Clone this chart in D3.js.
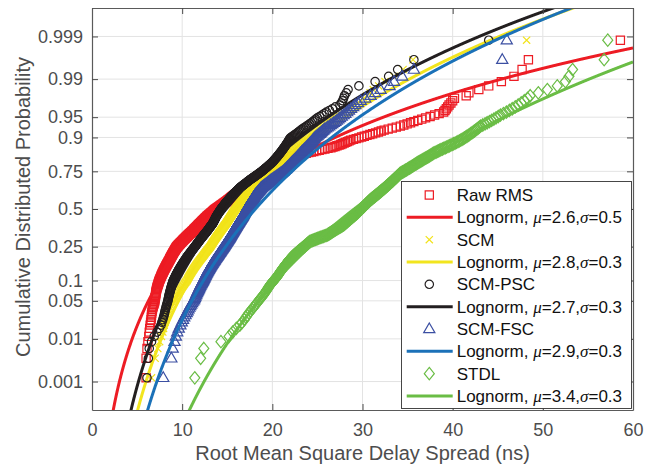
<!DOCTYPE html>
<html><head><meta charset="utf-8">
<script src="https://cdn.jsdelivr.net/npm/d3@7"></script>
<style>body{margin:0;background:#fff}svg{display:block}text{font-family:"Liberation Sans",Arial,Helvetica,sans-serif}</style>
</head><body><svg id="c" width="652" height="466"></svg>
<script>
const xTicks=[0,10,20,30,40,50,60];
const probTicks=[0.001,0.01,0.05,0.1,0.25,0.5,0.75,0.9,0.95,0.99,0.999];
const probLabels=["0.001","0.01","0.05","0.1","0.25","0.5","0.75","0.9","0.95","0.99","0.999"];
const seriesNames=["Raw RMS","SCM","SCM-PSC","SCM-FSC","STDL"];
const fitMuLabel=["2.6","2.8","2.7","2.9","3.4"];
const fitSigmaLabel=["0.5","0.3","0.3","0.3","0.3"];
const fitMu=[2.655,2.80,2.70,2.897,3.37];
const fitSigma=[0.499,0.327,0.343,0.299,0.275];

const rawRMS=[6.0,6.0,6.1,6.2,6.3,6.35,6.4,6.45,6.5,6.55,6.58,6.6,6.63,6.67,6.7,6.75,6.8,6.85,6.9,6.95,
6.97,6.99,7.0,7.03,7.05,7.07,7.09,7.1,7.13,7.15,7.18,7.2,7.23,7.27,7.3,7.33,7.36,7.39,7.42,7.45,
7.48,7.52,7.55,7.59,7.62,7.66,7.69,7.72,7.76,7.8,7.83,7.87,7.9,7.94,7.97,8.01,8.04,8.08,8.11,8.15,
8.18,8.22,8.25,8.29,8.32,8.36,8.39,8.43,8.46,8.5,8.53,8.56,8.59,8.62,8.65,8.68,8.71,8.74,8.77,8.8,
8.83,8.86,8.89,8.92,8.95,8.98,9.01,9.04,9.07,9.1,9.13,9.16,9.19,9.22,9.25,9.28,9.31,9.34,9.37,9.4,
9.44,9.49,9.53,9.58,9.62,9.67,9.71,9.76,9.8,9.85,9.89,9.94,9.98,10.03,10.07,10.12,10.16,10.21,10.25,10.3,
10.34,10.39,10.43,10.48,10.52,10.57,10.61,10.66,10.7,10.75,10.79,10.84,10.88,10.93,10.97,11.02,11.06,11.11,11.15,11.2,
11.24,11.28,11.32,11.36,11.4,11.44,11.48,11.52,11.56,11.6,11.64,11.68,11.72,11.76,11.8,11.84,11.88,11.92,11.96,12.0,
12.04,12.08,12.12,12.16,12.2,12.24,12.28,12.32,12.36,12.4,12.44,12.48,12.52,12.56,12.6,12.64,12.68,12.72,12.76,12.8,
12.85,12.89,12.94,12.98,13.03,13.07,13.12,13.16,13.21,13.25,13.3,13.34,13.39,13.43,13.48,13.52,13.57,13.61,13.66,13.7,
13.76,13.81,13.87,13.92,13.98,14.03,14.09,14.14,14.2,14.25,14.31,14.36,14.42,14.47,14.53,14.58,14.64,14.69,14.75,14.8,
14.85,14.9,14.95,15.0,15.05,15.1,15.15,15.2,15.25,15.3,15.35,15.4,15.45,15.5,15.55,15.6,15.65,15.7,15.75,15.8,
15.85,15.9,15.95,16.0,16.05,16.1,16.15,16.2,16.25,16.3,16.35,16.4,16.45,16.5,16.55,16.6,16.65,16.7,16.75,16.8,
16.86,16.91,16.97,17.02,17.08,17.13,17.19,17.24,17.3,17.35,17.41,17.46,17.52,17.57,17.63,17.68,17.74,17.79,17.85,17.9,
17.97,18.03,18.1,18.16,18.23,18.29,18.36,18.42,18.49,18.55,18.62,18.68,18.75,18.81,18.88,18.94,19.01,19.07,19.14,19.2,
19.28,19.36,19.44,19.52,19.6,19.68,19.76,19.84,19.92,20.0,20.06,20.12,20.18,20.24,20.3,20.36,20.42,20.48,20.54,20.6,
20.72,20.84,20.96,21.08,21.2,21.36,21.52,21.68,21.84,22.0,22.24,22.48,22.72,22.96,23.2,23.48,23.76,24.04,24.32,24.6,
24.9,25.2,25.5,25.83,26.17,26.5,26.72,26.95,27.17,27.4,27.59,27.77,27.96,28.14,28.33,28.51,28.7,29.0,29.3,29.6,
29.9,30.2,30.5,30.82,31.13,31.45,31.77,32.08,32.4,32.85,33.3,33.75,34.2,34.58,34.95,35.33,35.7,36.13,36.57,37.0,
37.5,38.0,38.5,39.0,39.15,39.3,39.45,39.6,39.8,40.0,40.2,41.5,41.8,42.9,44.0,45.4,46.8,47.7,48.4,58.6];

const scm=[6.6,7.0,7.3,7.5,7.7,7.85,7.93,8.0,8.1,8.2,8.28,8.36,8.44,8.52,8.6,8.7,8.8,8.9,9.0,9.1,
9.17,9.24,9.31,9.38,9.45,9.52,9.59,9.66,9.73,9.8,9.87,9.94,10.01,10.08,10.15,10.22,10.29,10.36,10.43,10.5,
10.55,10.59,10.64,10.68,10.73,10.77,10.82,10.86,10.91,10.95,11.0,11.04,11.09,11.13,11.18,11.22,11.27,11.31,11.36,11.4,
11.45,11.49,11.54,11.58,11.63,11.67,11.72,11.76,11.81,11.85,11.9,11.94,11.99,12.03,12.08,12.12,12.17,12.21,12.26,12.3,
12.34,12.38,12.42,12.46,12.5,12.54,12.58,12.62,12.66,12.7,12.74,12.78,12.82,12.86,12.9,12.94,12.98,13.02,13.06,13.1,
13.13,13.16,13.19,13.22,13.25,13.28,13.31,13.34,13.37,13.4,13.43,13.46,13.49,13.52,13.55,13.58,13.61,13.64,13.67,13.7,
13.73,13.76,13.79,13.82,13.85,13.88,13.91,13.94,13.97,14.0,14.03,14.06,14.09,14.12,14.15,14.18,14.21,14.24,14.27,14.3,
14.33,14.36,14.39,14.42,14.45,14.48,14.51,14.54,14.57,14.6,14.63,14.66,14.69,14.72,14.75,14.78,14.81,14.84,14.87,14.9,
14.93,14.95,14.98,15.0,15.03,15.05,15.08,15.1,15.13,15.15,15.18,15.2,15.23,15.25,15.28,15.3,15.33,15.35,15.38,15.4,
15.43,15.45,15.48,15.5,15.53,15.55,15.58,15.6,15.63,15.65,15.68,15.7,15.73,15.75,15.78,15.8,15.83,15.85,15.88,15.9,
15.93,15.96,15.99,16.02,16.05,16.08,16.11,16.14,16.17,16.2,16.23,16.26,16.29,16.32,16.35,16.38,16.41,16.44,16.47,16.5,
16.53,16.56,16.59,16.62,16.65,16.68,16.71,16.74,16.77,16.8,16.83,16.86,16.89,16.92,16.95,16.98,17.01,17.04,17.07,17.1,
17.14,17.17,17.21,17.24,17.28,17.31,17.35,17.38,17.42,17.45,17.49,17.52,17.56,17.59,17.63,17.66,17.7,17.73,17.77,17.8,
17.85,17.9,17.95,18.0,18.05,18.1,18.15,18.2,18.25,18.3,18.35,18.4,18.45,18.5,18.55,18.6,18.65,18.7,18.75,18.8,
18.87,18.94,19.01,19.08,19.15,19.22,19.29,19.36,19.43,19.5,19.57,19.64,19.71,19.78,19.85,19.92,19.99,20.06,20.13,20.2,
20.25,20.3,20.35,20.4,20.45,20.5,20.55,20.6,20.65,20.7,20.75,20.8,20.85,20.9,20.95,21.0,21.05,21.1,21.15,21.2,
21.25,21.3,21.35,21.4,21.45,21.5,21.55,21.6,21.65,21.7,21.75,21.8,21.85,21.9,21.95,22.0,22.05,22.1,22.15,22.2,
22.28,22.36,22.44,22.52,22.6,22.68,22.76,22.84,22.92,23.0,23.08,23.16,23.24,23.32,23.4,23.48,23.56,23.64,23.72,23.8,
23.92,24.04,24.16,24.28,24.4,24.52,24.64,24.76,24.88,25.0,25.16,25.32,25.48,25.64,25.8,25.96,26.12,26.28,26.44,26.6,
26.92,27.24,27.56,27.88,28.2,28.53,28.87,29.2,29.5,29.8,30.15,30.5,30.85,31.2,31.8,32.5,33.5,34.5,35.6,48.2];

const scmPSC=[6.1,6.25,6.35,6.6,6.9,7.2,7.45,7.65,7.75,7.85,7.93,8.0,8.05,8.1,8.15,8.2,8.25,8.3,8.35,8.4,
8.43,8.46,8.49,8.52,8.55,8.58,8.61,8.64,8.67,8.7,8.73,8.76,8.79,8.82,8.85,8.88,8.91,8.94,8.97,9.0,
9.04,9.08,9.12,9.16,9.2,9.24,9.28,9.32,9.36,9.4,9.44,9.48,9.52,9.56,9.6,9.64,9.68,9.72,9.76,9.8,
9.84,9.88,9.92,9.96,10.0,10.04,10.08,10.12,10.16,10.2,10.24,10.28,10.32,10.36,10.4,10.44,10.48,10.52,10.56,10.6,
10.64,10.68,10.72,10.76,10.8,10.84,10.88,10.92,10.96,11.0,11.04,11.08,11.12,11.16,11.2,11.24,11.28,11.32,11.36,11.4,
11.44,11.47,11.51,11.54,11.58,11.61,11.65,11.68,11.72,11.75,11.79,11.82,11.86,11.89,11.93,11.96,12.0,12.03,12.07,12.1,
12.14,12.17,12.21,12.24,12.28,12.31,12.35,12.38,12.42,12.45,12.49,12.52,12.56,12.59,12.63,12.66,12.7,12.73,12.77,12.8,
12.83,12.86,12.89,12.92,12.95,12.98,13.01,13.04,13.07,13.1,13.13,13.16,13.19,13.22,13.25,13.28,13.31,13.34,13.37,13.4,
13.42,13.44,13.46,13.48,13.5,13.52,13.54,13.56,13.58,13.6,13.62,13.64,13.66,13.68,13.7,13.72,13.74,13.76,13.78,13.8,
13.83,13.85,13.88,13.9,13.93,13.95,13.98,14.0,14.03,14.05,14.08,14.1,14.13,14.15,14.18,14.2,14.23,14.25,14.28,14.3,
14.33,14.36,14.39,14.42,14.45,14.48,14.51,14.54,14.57,14.6,14.63,14.66,14.69,14.72,14.75,14.78,14.81,14.84,14.87,14.9,
14.94,14.97,15.01,15.04,15.08,15.11,15.15,15.18,15.22,15.25,15.29,15.32,15.36,15.39,15.43,15.46,15.5,15.53,15.57,15.6,
15.64,15.68,15.72,15.76,15.8,15.84,15.88,15.92,15.96,16.0,16.04,16.08,16.12,16.16,16.2,16.24,16.28,16.32,16.36,16.4,
16.46,16.51,16.57,16.62,16.68,16.73,16.79,16.84,16.9,16.95,17.01,17.06,17.12,17.17,17.23,17.28,17.34,17.39,17.45,17.5,
17.57,17.63,17.7,17.76,17.83,17.89,17.96,18.02,18.09,18.15,18.22,18.28,18.35,18.41,18.48,18.54,18.61,18.67,18.74,18.8,
18.86,18.92,18.98,19.04,19.1,19.16,19.22,19.28,19.34,19.4,19.46,19.52,19.58,19.64,19.7,19.76,19.82,19.88,19.94,20.0,
20.05,20.1,20.15,20.2,20.25,20.3,20.35,20.4,20.45,20.5,20.55,20.6,20.65,20.7,20.75,20.8,20.85,20.9,20.95,21.0,
21.05,21.1,21.15,21.2,21.25,21.3,21.35,21.4,21.45,21.5,21.55,21.6,21.65,21.7,21.75,21.8,21.85,21.9,21.95,22.0,
22.13,22.26,22.39,22.52,22.65,22.78,22.91,23.04,23.17,23.3,23.47,23.64,23.81,23.98,24.15,24.32,24.49,24.66,24.83,25.0,
25.25,25.5,25.75,26.0,26.33,26.67,27.0,27.5,27.65,27.8,27.9,28.0,28.2,28.4,29.6,31.4,32.9,33.9,35.7,44.0];

const scmFSC=[7.9,8.8,8.95,9.15,9.3,9.45,9.62,9.8,9.95,10.1,10.23,10.37,10.5,10.6,10.7,10.8,10.9,11.0,11.1,11.2,
11.3,11.36,11.41,11.47,11.52,11.58,11.63,11.69,11.74,11.8,11.85,11.9,11.95,12.0,12.05,12.1,12.15,12.2,12.25,12.3,
12.34,12.38,12.42,12.46,12.5,12.54,12.58,12.62,12.66,12.7,12.74,12.78,12.82,12.86,12.9,12.94,12.98,13.02,13.06,13.1,
13.14,13.18,13.22,13.26,13.3,13.34,13.38,13.42,13.46,13.5,13.54,13.58,13.62,13.66,13.7,13.74,13.78,13.82,13.86,13.9,
13.94,13.97,14.01,14.04,14.08,14.11,14.15,14.18,14.22,14.25,14.29,14.32,14.36,14.39,14.43,14.46,14.5,14.53,14.57,14.6,
14.63,14.66,14.69,14.72,14.75,14.78,14.81,14.84,14.87,14.9,14.93,14.96,14.99,15.02,15.05,15.08,15.11,15.14,15.17,15.2,
15.23,15.25,15.28,15.3,15.33,15.35,15.38,15.4,15.43,15.45,15.48,15.5,15.53,15.55,15.58,15.6,15.63,15.65,15.68,15.7,
15.73,15.75,15.78,15.8,15.83,15.85,15.88,15.9,15.93,15.95,15.98,16.0,16.03,16.05,16.08,16.1,16.13,16.15,16.18,16.2,
16.23,16.25,16.28,16.3,16.33,16.35,16.38,16.4,16.43,16.45,16.48,16.5,16.53,16.55,16.58,16.6,16.63,16.65,16.68,16.7,
16.72,16.74,16.76,16.78,16.8,16.82,16.84,16.86,16.88,16.9,16.92,16.94,16.96,16.98,17.0,17.02,17.04,17.06,17.08,17.1,
17.13,17.15,17.18,17.2,17.23,17.25,17.28,17.3,17.33,17.35,17.38,17.4,17.43,17.45,17.48,17.5,17.53,17.55,17.58,17.6,
17.63,17.65,17.68,17.7,17.73,17.75,17.78,17.8,17.83,17.85,17.88,17.9,17.93,17.95,17.98,18.0,18.03,18.05,18.08,18.1,
18.14,18.17,18.21,18.24,18.28,18.31,18.35,18.38,18.42,18.45,18.49,18.52,18.56,18.59,18.63,18.66,18.7,18.73,18.77,18.8,
18.86,18.91,18.97,19.02,19.08,19.13,19.19,19.24,19.3,19.35,19.41,19.46,19.52,19.57,19.63,19.68,19.74,19.79,19.85,19.9,
19.97,20.03,20.1,20.16,20.23,20.29,20.36,20.42,20.49,20.55,20.62,20.68,20.75,20.81,20.88,20.94,21.01,21.07,21.14,21.2,
21.25,21.3,21.35,21.4,21.45,21.5,21.55,21.6,21.65,21.7,21.75,21.8,21.85,21.9,21.95,22.0,22.05,22.1,22.15,22.2,
22.26,22.31,22.37,22.42,22.48,22.53,22.59,22.64,22.7,22.75,22.81,22.86,22.92,22.97,23.03,23.08,23.14,23.19,23.25,23.3,
23.37,23.44,23.51,23.58,23.65,23.72,23.79,23.86,23.93,24.0,24.07,24.14,24.21,24.28,24.35,24.42,24.49,24.56,24.63,24.7,
24.81,24.92,25.03,25.14,25.25,25.36,25.47,25.58,25.69,25.8,25.97,26.14,26.31,26.48,26.65,26.82,26.99,27.16,27.33,27.5,
27.7,27.9,28.1,28.3,28.5,28.73,28.97,29.2,29.5,29.8,30.3,30.9,31.4,32.0,33.0,33.5,34.4,35.7,45.5,46.0];

const stdl=[11.4,12.05,12.4,14.3,15.2,15.6,16.0,16.4,16.65,16.9,17.07,17.23,17.4,17.57,17.73,17.9,18.03,18.17,18.3,18.42,
18.53,18.65,18.77,18.88,19.0,19.08,19.16,19.24,19.32,19.4,19.47,19.53,19.6,19.67,19.73,19.8,19.88,19.96,20.03,20.11,
20.19,20.27,20.34,20.42,20.5,20.55,20.6,20.65,20.7,20.75,20.8,20.85,20.9,20.95,21.0,21.05,21.1,21.15,21.2,21.25,
21.3,21.35,21.4,21.45,21.5,21.55,21.6,21.65,21.7,21.75,21.8,21.85,21.9,21.95,22.0,22.06,22.12,22.17,22.23,22.29,
22.35,22.41,22.47,22.53,22.58,22.64,22.7,22.76,22.82,22.88,22.95,23.01,23.07,23.13,23.19,23.25,23.32,23.38,23.44,23.5,
23.55,23.61,23.66,23.72,23.77,23.82,23.88,23.93,23.98,24.04,24.09,24.15,24.2,24.32,24.44,24.56,24.68,24.79,24.91,25.03,
25.15,25.27,25.39,25.51,25.63,25.74,25.86,25.98,26.1,26.17,26.23,26.3,26.37,26.43,26.5,26.57,26.63,26.7,26.77,26.83,
26.9,26.97,27.03,27.1,27.17,27.23,27.3,27.37,27.43,27.5,27.57,27.63,27.7,27.77,27.83,27.9,27.95,27.99,28.04,28.08,
28.13,28.17,28.22,28.26,28.31,28.35,28.4,28.45,28.49,28.54,28.58,28.63,28.67,28.72,28.76,28.81,28.85,28.9,28.95,28.99,
29.04,29.08,29.13,29.17,29.22,29.26,29.31,29.35,29.4,29.44,29.48,29.52,29.56,29.6,29.64,29.68,29.72,29.76,29.79,29.83,
29.87,29.91,29.95,29.99,30.03,30.07,30.11,30.15,30.19,30.23,30.26,30.3,30.34,30.38,30.42,30.46,30.5,30.54,30.58,30.62,
30.66,30.7,30.74,30.78,30.82,30.86,30.9,30.95,31.0,31.05,31.09,31.14,31.19,31.24,31.29,31.34,31.39,31.43,31.48,31.53,
31.58,31.63,31.68,31.73,31.78,31.82,31.87,31.92,31.97,32.02,32.07,32.12,32.16,32.21,32.26,32.31,32.36,32.41,32.45,32.5,
32.55,32.59,32.64,32.69,32.74,32.78,32.83,32.88,32.92,32.97,33.02,33.07,33.11,33.16,33.21,33.26,33.3,33.35,33.4,33.44,
33.49,33.54,33.59,33.63,33.68,33.73,33.78,33.82,33.87,33.92,33.96,34.01,34.06,34.11,34.15,34.2,34.28,34.37,34.45,34.53,
34.62,34.7,34.78,34.87,34.95,35.03,35.12,35.2,35.28,35.37,35.45,35.53,35.62,35.7,35.78,35.87,35.95,36.03,36.12,36.2,
36.3,36.4,36.5,36.6,36.7,36.8,36.9,37.0,37.1,37.2,37.3,37.4,37.5,37.6,37.7,37.8,37.9,38.03,38.17,38.3,
38.43,38.57,38.7,38.86,39.01,39.17,39.33,39.49,39.64,39.8,39.96,40.11,40.27,40.43,40.59,40.74,40.9,41.04,41.18,41.31,
41.45,41.59,41.73,41.86,42.0,42.14,42.28,42.41,42.55,42.69,42.83,42.96,43.1,43.34,43.59,43.83,44.08,44.32,44.57,44.81,
45.06,45.3,45.63,45.96,46.29,46.61,46.94,47.27,47.6,47.95,48.3,48.6,49.5,50.5,51.6,52.5,52.9,53.3,56.8,57.2];

const seriesData=[rawRMS,scm,scmPSC,scmFSC,stdl];
const markerColors=["#ED1C24","#F2E31B","#231F20","#3B4FA2","#6ABD45"];
const lineColors=["#ED1C24","#F2E51E","#231F20","#1B71B8","#6ABD45"];
const markerShapes=["square","cross","circle","triangle","diamond"];

function probit(p){
 const a=[-3.969683028665376e+01,2.209460984245205e+02,-2.759285104469687e+02,1.383577518672690e+02,-3.066479806614716e+01,2.506628277459239e+00];
 const b=[-5.447609879822406e+01,1.615858368580409e+02,-1.556989798598866e+02,6.680131188771019e+01,-1.328068155288572e+01];
 const c=[-7.784894002430293e-03,-3.223964580411365e-01,-2.400758277161838e+00,-2.549732539343734e+00,4.374664141464968e+00,2.938163982698783e+00];
 const d=[7.784695709041462e-03,3.224671290700398e-01,2.445134137142996e+00,3.754408661907416e+00];
 const pl=0.02425;let q,r;
 if(p<pl){q=Math.sqrt(-2*Math.log(p));return (((((c[0]*q+c[1])*q+c[2])*q+c[3])*q+c[4])*q+c[5])/((((d[0]*q+d[1])*q+d[2])*q+d[3])*q+1);}
 if(p>1-pl){q=Math.sqrt(-2*Math.log(1-p));return -(((((c[0]*q+c[1])*q+c[2])*q+c[3])*q+c[4])*q+c[5])/((((d[0]*q+d[1])*q+d[2])*q+d[3])*q+1);}
 q=p-0.5;r=q*q;return (((((a[0]*r+a[1])*r+a[2])*r+a[3])*r+a[4])*r+a[5])*q/(((((b[0]*r+b[1])*r+b[2])*r+b[3])*r+b[4])*r+1);
}

const L=92,R=633,T=8,B=410;
const svg=d3.select("#c");
svg.append("rect").attr("width",652).attr("height",466).attr("fill","#fff");
const x=d3.scaleLinear().domain([0,60]).range([L,R]);
const y=d3.scaleLinear().domain([-3.6,3.6]).range([B,T]);
const zTicks=probTicks.map(probit);

const grid=svg.append("g").attr("stroke","#e3e3e3").attr("stroke-width",1);
grid.selectAll(".gx").data(xTicks.slice(1,-1)).join("line")
 .attr("x1",d=>x(d)).attr("x2",d=>x(d)).attr("y1",T).attr("y2",B);
grid.selectAll(".gy").data(zTicks).join("line")
 .attr("x1",L).attr("x2",R).attr("y1",d=>y(d)).attr("y2",d=>y(d));

svg.append("clipPath").attr("id","clip").append("rect").attr("x",L).attr("y",T).attr("width",R-L).attr("height",B-T);

function symPath(s){
 if(s==="square")return "M-4.1,-4.1h8.2v8.2h-8.2z";
 if(s==="cross")return "M-3.6,-3.6L3.6,3.6M-3.6,3.6L3.6,-3.6";
 if(s==="circle")return d3.symbol(d3.symbolCircle,Math.PI*4.2*4.2)();
 if(s==="triangle")return "M0,-6L5.6,3.7L-5.6,3.7Z";
 return "M0,-6.2L5,0L0,6.2L-5,0Z";
}

const plot=svg.append("g").attr("clip-path","url(#clip)");
const curveX=d3.range(0.5,60.001,0.02);
const lineGen=d3.line().x(d=>x(d[0])).y(d=>y(d[1]));
seriesData.forEach((arr,k)=>{
 const n=arr.length;
 plot.append("g").selectAll("path").data(arr).join("path")
  .attr("d",symPath(markerShapes[k]))
  .attr("transform",(d,i)=>`translate(${x(d)},${y(probit((i+0.5)/n))})`)
  .attr("fill","none").attr("stroke",markerColors[k]).attr("stroke-width",1.2);
 const pts=curveX.map(v=>[v,(Math.log(v)-fitMu[k])/fitSigma[k]]).filter(p=>p[1]>-4.5&&p[1]<4.5);
 plot.append("path").datum(pts).attr("d",lineGen).attr("fill","none")
  .attr("stroke",lineColors[k]).attr("stroke-width",3);
});

function styleAxis(g){
 g.select(".domain").attr("stroke","#5a5a5a").attr("stroke-width",1.2);
 g.selectAll(".tick line").attr("stroke","#4a4a4a").attr("stroke-width",1);
 g.selectAll(".tick text").attr("fill","#4d4d4d").style("font-size","18px").style("font-family","'Liberation Sans',Arial,sans-serif");
}
svg.append("g").attr("transform",`translate(0,${B})`)
 .call(d3.axisBottom(x).tickValues(xTicks).tickSizeInner(-6).tickSizeOuter(0).tickPadding(13)).call(styleAxis);
svg.append("g").attr("transform",`translate(0,${T})`)
 .call(d3.axisTop(x).tickValues(xTicks).tickSizeInner(-6).tickSizeOuter(0).tickFormat("")).call(styleAxis);
svg.append("g").attr("transform",`translate(${L},0)`)
 .call(d3.axisLeft(y).tickValues(zTicks).tickFormat((d,i)=>probLabels[i]).tickSizeInner(-6).tickSizeOuter(0).tickPadding(9)).call(styleAxis);
svg.append("g").attr("transform",`translate(${R},0)`)
 .call(d3.axisRight(y).tickValues(zTicks).tickSizeInner(-6).tickSizeOuter(0).tickFormat("")).call(styleAxis);

svg.append("text").attr("x",(L+R)/2).attr("y",460).attr("text-anchor","middle")
 .attr("fill","#4d4d4d").style("font-size","20px").text("Root Mean Square Delay Spread (ns)");
svg.append("text").attr("transform","translate(30,207) rotate(-90)").attr("text-anchor","middle")
 .attr("fill","#4d4d4d").style("font-size","20px").text("Cumulative Distributed Probability");

const lg=svg.append("g");
lg.append("rect").attr("x",401.5).attr("y",181.5).attr("width",230).attr("height",227)
 .attr("fill","#fff").attr("stroke","#333").attr("stroke-width",0.9);
const rowY=k=>195+22.33*k;
seriesNames.forEach((name,k)=>{
 const y1=rowY(2*k), y2=rowY(2*k+1);
 lg.append("path").attr("d",symPath(markerShapes[k])).attr("transform",`translate(429.3,${y1})`)
  .attr("fill","none").attr("stroke",markerColors[k]).attr("stroke-width",1.2);
 lg.append("text").attr("x",456.7).attr("y",y1+6).attr("fill","#111").style("font-size","17px").text(name);
 lg.append("line").attr("x1",406.7).attr("x2",452.7).attr("y1",y2).attr("y2",y2)
  .attr("stroke",lineColors[k]).attr("stroke-width",3);
 const t=lg.append("text").attr("x",456.7).attr("y",y2+6).attr("fill","#111").style("font-size","17px");
 t.append("tspan").text("Lognorm, ");
 t.append("tspan").style("font-family","'Liberation Serif','Times New Roman',serif").style("font-style","italic").text("\u03bc");
 t.append("tspan").text("="+fitMuLabel[k]+",");
 t.append("tspan").style("font-family","'Liberation Serif','Times New Roman',serif").style("font-style","italic").text("\u03c3");
 t.append("tspan").text("="+fitSigmaLabel[k]);
});
</script></body></html>
